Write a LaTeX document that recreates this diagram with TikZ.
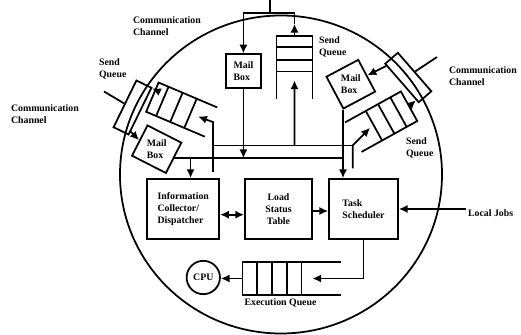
\documentclass[tikz,border=0pt]{standalone}
\usepackage{fontspec}
\setmainfont{Liberation Serif}
\usetikzlibrary{arrows.meta,positioning,calc}
\tikzset{
  >={Latex[length=7.5pt,width=7pt]},
  txt/.style={font=\fontsize{8.4}{10.2}\selectfont\bfseries, align=left, inner sep=1pt},
  unitbox/.style={draw, txt, inner sep=2pt},
  blankbox/.style={draw, rectangle, inner sep=0pt},
  queuebox/.style={rectangle, inner sep=0pt},
  flow/.style={->},
  dflow/.style={<->}
}

\begin{document}
\begin{tikzpicture}[x=0.03cm, y=0.03cm, line width=1.5pt]
\useasboundingbox (0,0) rectangle (521,335);

% the site
\draw (281,160.5) ellipse [x radius=4.83cm, y radius=4.77cm];

% main units
\node[unitbox, minimum width=2.16cm, minimum height=1.8cm] (info) at (183.2,126) {Information\\Collector/\\Dispatcher};
\node[unitbox, align=center, minimum width=2.01cm, minimum height=1.8cm] (lst) at (278.5,126) {Load\\Status\\Table};
\node[unitbox, minimum width=2.07cm, minimum height=1.8cm] (ts) at (363.5,126) {Task\\Scheduler};
\node[draw, circle, txt, inner sep=0pt, minimum size=1cm] (cpu) at (203.3,57.5) {CPU};
\node[queuebox, rotate=180, minimum width=2.9cm, minimum height=0.95cm] (eq) at (291.7,56.5) {};
\node[txt] (eqlbl) at (280.5,32.3) {Execution Queue};

% top channel
\node[unitbox, minimum width=1.04cm, minimum height=1cm] (mbT) at (243.4,264) {Mail\\Box};
\node[queuebox, rotate=90, minimum width=1.83cm, minimum height=1.03cm] (qT) at (294.5,267.8) {};

% left channel
\node[blankbox, rotate=64, minimum width=1.56cm, minimum height=0.5cm] (chL) at (132.5,227.5) {};
\node[queuebox, rotate=157, minimum width=1.86cm, minimum height=0.9cm] (qL) at (181.7,225.4) {};
\node[blankbox, rotate=-27, minimum width=1.14cm, minimum height=1.02cm] (mbL) at (156.7,185.8) {};
\node[txt] (mbLt) at (mbL) {Mail\\Box};

% right channel
\node[blankbox, rotate=-49, minimum width=1.53cm, minimum height=0.5cm] (chR) at (408.3,257.5) {};
\node[queuebox, rotate=29, minimum width=1.86cm, minimum height=0.96cm] (qR) at (381.2,213.3) {};
\node[blankbox, rotate=28, minimum width=1.08cm, minimum height=1.08cm] (mbR) at (350.8,250.8) {};
\node[txt] (mbRt) at (mbR) {Mail\\Box};

% labels
\node[txt, anchor=west] (lblCT) at (131,309) {Communication\\Channel};
\node[txt, anchor=west] (lblSL) at (97,266) {Send\\Queue};
\node[txt, anchor=west] (lblCL) at (9,221) {Communication\\Channel};
\node[txt, anchor=west] (lblST) at (317,288.5) {Send\\Queue};
\node[txt, anchor=west] (lblCR) at (447,259) {Communication\\Channel};
\node[txt, anchor=west] (lblSR) at (404,187) {Send\\Queue};
\node[txt, anchor=west] (lj) at (466,122) {Local Jobs};

% queues: closed at east, cells counted from there
\foreach \q/\cl in {qT/{0.18,0.38,0.57}, qL/{0.17,0.41,0.65}, qR/{0.19,0.41,0.63}, eq/{0.15,0.3,0.45,0.6}}{
  \draw (\q.north west) -- (\q.north east) -- (\q.south east) -- (\q.south west);
  \foreach \f in \cl
    \draw ($(\q.north east)!\f!(\q.north west)$) -- ($(\q.south east)!\f!(\q.south west)$);
}

\coordinate (sL) at (213,163);
\coordinate (sR) at (352.7,166.7);
\coordinate (busU) at (213,189.5);
\coordinate (busUE) at (352.7,189.5);
\coordinate (infoIn) at ($(info.north west)!0.6!(info.north east)$);
\coordinate (chT) at (270,322);
\coordinate (chTo) at (270,335);
\coordinate (ccL) at (104,243.5);
\coordinate (ccR) at (437,278);
\coordinate (qLo) at ($(qL.south east)!0.25!(qL.north east)$);
\coordinate (qTo) at ($(qT.east)+(0,12)$);

% dispatch lines
\draw (busU) -- (busUE);
\draw[flow] (sL) -- (sL |- qL.west) -- ($(qL.west)!0.22!(qL.east)$);
\draw[flow] (sR) -- (busUE) -- ($(qR.west)!0.3!(qR.east)$);
\draw[flow] (busU -| qT) -- ($(qT.west)!0.29!(qT.east)$);

% mail box lines
\draw (mbL.east) -- (mbL.east -| mbR.south west);
\draw[flow] (mbT.south) -- (mbT.south |- mbL.east);
\draw[flow] (infoIn |- mbL.east) -- (infoIn);
\draw[flow] (mbR.south west) -- (mbR.south west |- ts.north);

% channels
\draw[flow] (qT.east) -- (qTo);
\draw[flow] (qTo) |- (chT) -| (mbT.north);
\draw (chT) -- (chTo);
\draw (chL.north) -- (ccL);
\draw (chR.north) -- (ccR);
\draw[flow] (qLo) -- ($(chL.south east)!(qLo)!(chL.south west)$);
\draw[flow] (qR.east) -- ($(chR.south east)!(qR.east)!(chR.south west)$);
\draw[flow] ($(chL.south west)!0.08!(chL.south east)$) -- (mbL.west);
\draw[flow] ($(chR.south west)!0.06!(chR.south east)$) -- (mbR.east);

% units
\draw[dflow] ([yshift=-0.17cm]info.east) -- ([yshift=-0.17cm]lst.west);
\draw[flow] ([yshift=-0.06cm]lst.east) -- ([yshift=-0.06cm]ts.west);
\draw[flow] (lj.west |- ts.east) -- (ts.east);
\draw[flow] (ts.south) |- ($(eq.west)!0.29!(eq.east)$);
\draw[flow] (eq.east) -- (eq.east -| cpu.east);
\end{tikzpicture}
\end{document}
